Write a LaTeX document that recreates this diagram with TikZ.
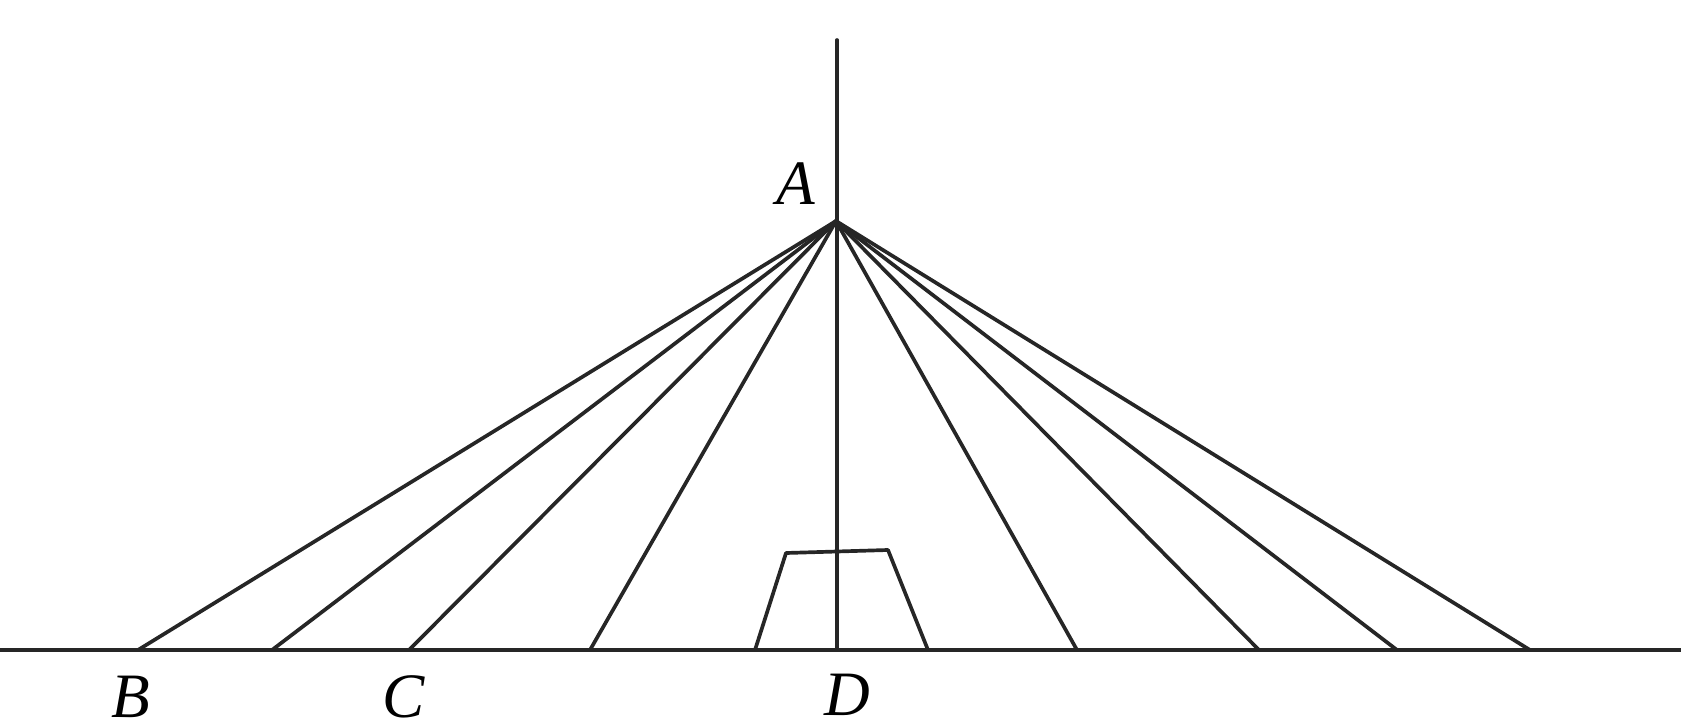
\documentclass[tikz,border=0pt]{standalone}
\usepackage{fontspec}
\setmainfont{Liberation Serif}
\usetikzlibrary{positioning}

\begin{document}
\begin{tikzpicture}[x=0.02cm,y=-0.02cm]
\tikzset{
  bridgeline/.style={draw=black!85,line width=2.1pt,line cap=round,line join=round},
  deckline/.style={draw=black!85,line width=2.5pt},
  ptlabel/.style={font=\fontsize{36}{40}\selectfont\itshape,inner sep=0pt}
}
\useasboundingbox (0,0) rectangle (1683,723);
% tower top and deck
\coordinate (p_top) at (837,40);
\coordinate (p_A) at (836,221);
\coordinate (p_D) at (837,650);
\coordinate (p_L) at (0,650);
\coordinate (p_R) at (1681,650);
% cable anchors on the deck
\coordinate (p_c1) at (138,650);
\coordinate (p_c2) at (272,650);
\coordinate (p_c3) at (409,650);
\coordinate (p_c4) at (590,650);
\coordinate (p_c5) at (1077,650);
\coordinate (p_c6) at (1259,650);
\coordinate (p_c7) at (1397,650);
\coordinate (p_c8) at (1530,650);
% pier
\coordinate (p_t1) at (755,650);
\coordinate (p_t2) at (786,553);
\coordinate (p_t3) at (888,550);
\coordinate (p_t4) at (928,650);
\node[ptlabel] (n_A) at (796,184) {A};
\node[ptlabel] (n_B) at (131,697) {B};
\node[ptlabel] (n_C) at (404,697) {C};
\node[ptlabel] (n_D) at (847,695) {D};
\draw[deckline] (p_L) -- (p_R);
\draw[bridgeline] (p_top) -- (p_D);
\draw[bridgeline] (p_A) -- (p_c1);
\draw[bridgeline] (p_A) -- (p_c2);
\draw[bridgeline] (p_A) -- (p_c3);
\draw[bridgeline] (p_A) -- (p_c4);
\draw[bridgeline] (p_A) -- (p_c5);
\draw[bridgeline] (p_A) -- (p_c6);
\draw[bridgeline] (p_A) -- (p_c7);
\draw[bridgeline] (p_A) -- (p_c8);
\draw[bridgeline] (p_t1) -- (p_t2) -- (p_t3) -- (p_t4);
\end{tikzpicture}
\end{document}
